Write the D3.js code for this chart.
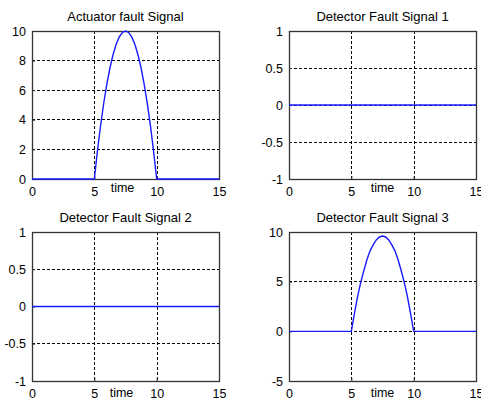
<!DOCTYPE html>
<html>
<head>
<meta charset="utf-8">
<script src="https://cdn.jsdelivr.net/npm/d3@7"></script>
<style>
  html, body { margin: 0; padding: 0; background: #ffffff; }
  svg { display: block; }
  text { font-family: "Liberation Sans", Arial, sans-serif; fill: #000; }
</style>
</head>
<body>
<svg id="chart" width="481" height="400"></svg>
<script>
// ---- data ----
const titles = ["Actuator fault Signal", "Detector Fault Signal 1", "Detector Fault Signal 2", "Detector Fault Signal 3"];
const xLabel = "time";
const xTicks = [0, 5, 10, 15];
const yTicks1 = [0, 2, 4, 6, 8, 10];
const yTicks2 = [-1, -0.5, 0, 0.5, 1];
const yTicks3 = [-1, -0.5, 0, 0.5, 1];
const yTicks4 = [-5, 0, 5, 10];
const yDomain1 = [0, 10];
const yDomain2 = [-1, 1];
const yDomain3 = [-1, 1];
const yDomain4 = [-5, 10];
const timeShort = [0, 15];
const timeFault = [0, 5, 5.25, 5.5, 5.75, 6, 6.25, 6.5, 6.75, 7, 7.25, 7.5, 7.75, 8, 8.25, 8.5, 8.75, 9, 9.25, 9.5, 9.75, 10, 15];
const actuatorFault = [0, 0, 1.9, 3.6, 5.1, 6.4, 7.5, 8.4, 9.1, 9.6, 9.9, 10, 9.9, 9.6, 9.1, 8.4, 7.5, 6.4, 5.1, 3.6, 1.9, 0, 0];
const detectorFault1 = [0, 0];
const detectorFault2 = [0, 0];
const detectorFault3 = [0, 0, 1.8, 3.5, 4.9, 6.1, 7.2, 8.1, 8.7, 9.2, 9.5, 9.6, 9.5, 9.2, 8.7, 8.1, 7.2, 6.1, 4.9, 3.5, 1.8, 0, 0];

// ---- layout ----
const panelBoxes = [
  { x0: 32, y0: 31, x1: 219, y1: 179, labelShift: -3 },
  { x0: 289, y0: 31, x1: 476, y1: 179, labelShift: 0 },
  { x0: 32, y0: 232, x1: 219, y1: 381, labelShift: -4 },
  { x0: 289, y0: 232, x1: 476, y1: 381, labelShift: 0 }
];

const panels = [
  { title: titles[0], t: timeFault, v: actuatorFault, yDomain: yDomain1, yTicks: yTicks1 },
  { title: titles[1], t: timeShort, v: detectorFault1, yDomain: yDomain2, yTicks: yTicks2 },
  { title: titles[2], t: timeShort, v: detectorFault2, yDomain: yDomain3, yTicks: yTicks3 },
  { title: titles[3], t: timeFault, v: detectorFault3, yDomain: yDomain4, yTicks: yTicks4 }
];

const svg = d3.select("#chart");
svg.append("rect").attr("width", 481).attr("height", 400).attr("fill", "#ffffff");

panels.forEach((p, i) => {
  const b = panelBoxes[i];
  const x = d3.scaleLinear().domain([0, 15]).range([b.x0, b.x1]);
  const y = d3.scaleLinear().domain(p.yDomain).range([b.y1, b.y0]);
  const g = svg.append("g");

  // grid lines (interior ticks)
  const dmin = p.yDomain[0], dmax = p.yDomain[1];
  g.append("g").attr("shape-rendering", "crispEdges").selectAll("line.gx")
    .data(xTicks.filter(d => d > 0 && d < 15))
    .join("line")
    .attr("x1", d => Math.round(x(d)) + 0.5).attr("x2", d => Math.round(x(d)) + 0.5)
    .attr("y1", b.y0).attr("y2", b.y1)
    .attr("stroke", "#000").attr("stroke-width", 1).attr("stroke-dasharray", "3,2");
  g.append("g").attr("shape-rendering", "crispEdges").selectAll("line.gy")
    .data(p.yTicks.filter(d => d > dmin && d < dmax))
    .join("line")
    .attr("x1", b.x0).attr("x2", b.x1)
    .attr("y1", d => Math.floor(y(d)) + 0.5).attr("y2", d => Math.floor(y(d)) + 0.5)
    .attr("stroke", "#000").attr("stroke-width", 1).attr("stroke-dasharray", "3,2");

  // box
  g.append("rect")
    .attr("x", b.x0 + 0.5).attr("y", b.y0 + 0.5)
    .attr("width", b.x1 - b.x0).attr("height", b.y1 - b.y0)
    .attr("fill", "none").attr("stroke", "#333").attr("stroke-width", 1.3);

  // axes with inward ticks
  const xAxis = d3.axisBottom(x).tickValues(xTicks).tickSizeInner(-3).tickSizeOuter(0).tickPadding(8).tickFormat(d3.format("d"));
  const ga = g.append("g").attr("transform", `translate(0,${b.y1})`).call(xAxis);
  ga.select(".domain").remove();
  ga.selectAll(".tick line").attr("stroke", "#333");
  ga.selectAll(".tick text").style("font-size", "12.5px").style("font-family", "Liberation Sans, Arial, sans-serif").attr("fill", "#000");

  const yAxis = d3.axisLeft(y).tickValues(p.yTicks).tickSizeInner(-3).tickSizeOuter(0).tickPadding(6).tickFormat(d => String(d));
  const gy = g.append("g").attr("transform", `translate(${b.x0},0)`).call(yAxis);
  gy.select(".domain").remove();
  gy.selectAll(".tick line").attr("stroke", "#333");
  gy.selectAll(".tick text").style("font-size", "12.5px").style("font-family", "Liberation Sans, Arial, sans-serif").attr("fill", "#000");

  // series line
  const line = d3.line().x((d, k) => x(p.t[k])).y(d => y(d));
  g.append("path").datum(p.v)
    .attr("d", line)
    .attr("fill", "none").attr("stroke", "#1a1aff").attr("stroke-width", 1.4);

  // title
  g.append("text")
    .attr("x", (b.x0 + b.x1) / 2).attr("y", b.y0 - 10)
    .attr("text-anchor", "middle").style("font-size", "13px").text(p.title);

  // x label
  g.append("text")
    .attr("x", (b.x0 + b.x1) / 2 + b.labelShift).attr("y", b.y1 + (i < 2 ? 13 : 16))
    .attr("text-anchor", "middle").style("font-size", "12.5px").text(xLabel);
});
</script>
</body>
</html>
